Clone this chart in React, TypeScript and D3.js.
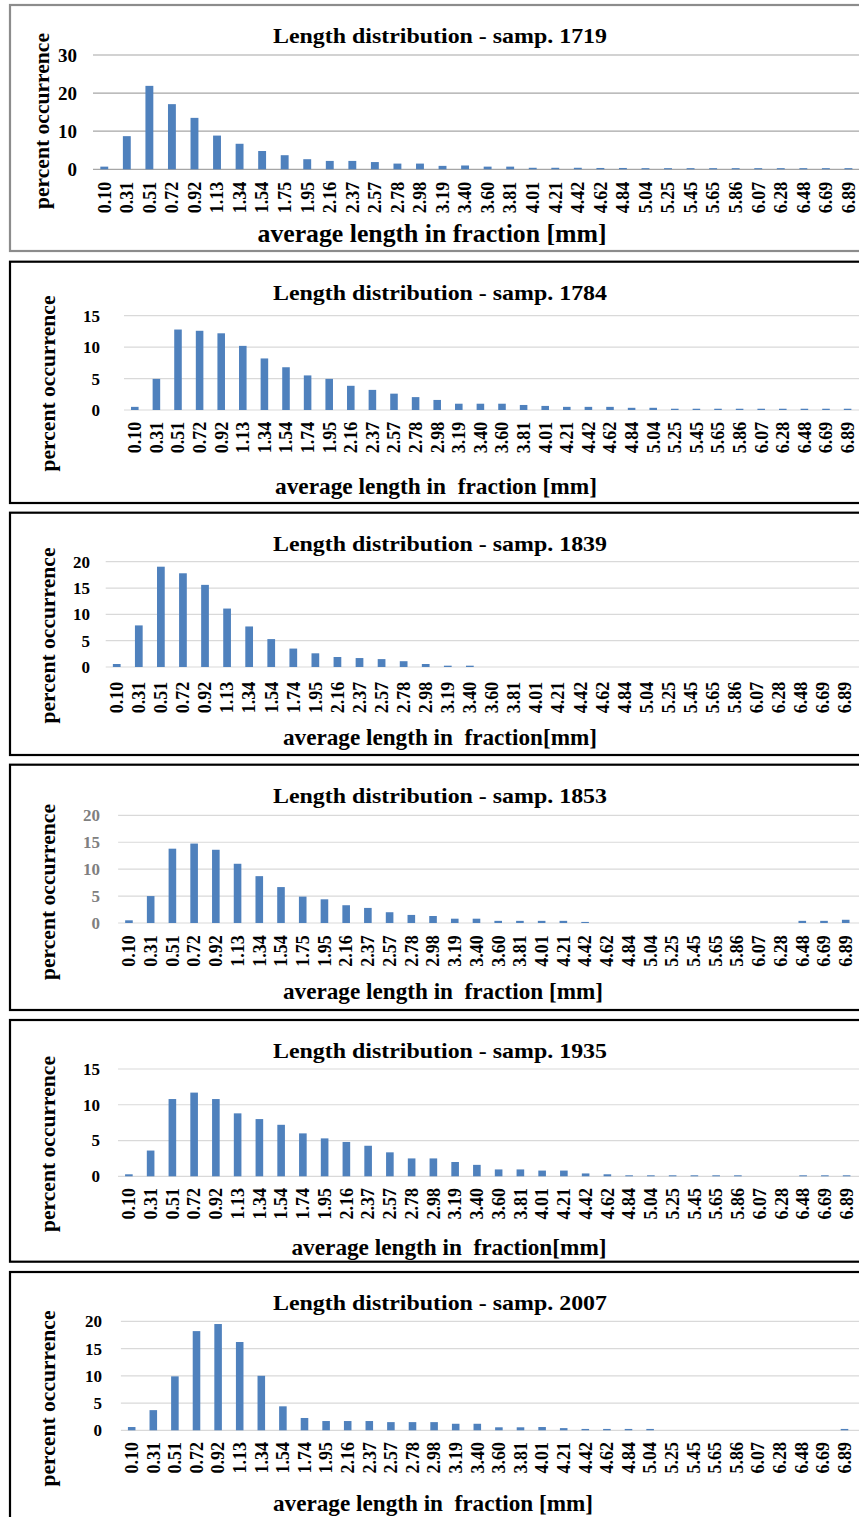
import React, { useEffect, useRef } from 'react';
import * as d3 from 'd3';

// category labels (two variants: some charts print 1.75, others 1.74)
const labels175 = ['0.10', '0.31', '0.51', '0.72', '0.92', '1.13', '1.34', '1.54', '1.75', '1.95', '2.16', '2.37', '2.57', '2.78', '2.98', '3.19', '3.40', '3.60', '3.81', '4.01', '4.21', '4.42', '4.62', '4.84', '5.04', '5.25', '5.45', '5.65', '5.86', '6.07', '6.28', '6.48', '6.69', '6.89'];
const labels174 = ['0.10', '0.31', '0.51', '0.72', '0.92', '1.13', '1.34', '1.54', '1.74', '1.95', '2.16', '2.37', '2.57', '2.78', '2.98', '3.19', '3.40', '3.60', '3.81', '4.01', '4.21', '4.42', '4.62', '4.84', '5.04', '5.25', '5.45', '5.65', '5.86', '6.07', '6.28', '6.48', '6.69', '6.89'];

// percent occurrence per sample
const samp1719 = [0.7, 8.7, 21.9, 17.1, 13.5, 8.85, 6.7, 4.8, 3.7, 2.65, 2.2, 2.2, 1.9, 1.5, 1.5, 0.9, 1.0, 0.7, 0.7, 0.4, 0.4, 0.4, 0.35, 0.35, 0.3, 0.3, 0.3, 0.3, 0.3, 0.3, 0.3, 0.3, 0.3, 0.3];
const samp1784 = [0.5, 4.95, 12.8, 12.6, 12.2, 10.2, 8.2, 6.8, 5.5, 4.95, 3.85, 3.2, 2.6, 2.05, 1.6, 1.0, 1.0, 1.0, 0.8, 0.65, 0.5, 0.5, 0.5, 0.35, 0.35, 0.2, 0.2, 0.2, 0.2, 0.2, 0.2, 0.2, 0.2, 0.2];
const samp1839 = [0.57, 7.9, 19.05, 17.8, 15.6, 11.1, 7.7, 5.3, 3.5, 2.6, 1.9, 1.7, 1.5, 1.1, 0.57, 0.25, 0.25, 0, 0, 0, 0, 0, 0, 0, 0, 0, 0, 0, 0, 0, 0, 0, 0, 0];
const samp1853 = [0.5, 5.0, 13.8, 14.75, 13.6, 11.0, 8.7, 6.67, 4.9, 4.4, 3.3, 2.8, 2.0, 1.5, 1.3, 0.8, 0.8, 0.4, 0.4, 0.4, 0.4, 0.2, 0, 0, 0, 0, 0, 0, 0, 0, 0, 0.4, 0.4, 0.6];
const samp1935 = [0.28, 3.6, 10.8, 11.7, 10.8, 8.8, 8.0, 7.2, 6.0, 5.3, 4.8, 4.27, 3.35, 2.5, 2.5, 2.0, 1.6, 0.96, 0.96, 0.8, 0.8, 0.4, 0.28, 0.14, 0.14, 0.14, 0.14, 0.14, 0.14, 0, 0, 0.14, 0.14, 0.14];
const samp2007 = [0.6, 3.7, 9.9, 18.2, 19.5, 16.2, 10.0, 4.4, 2.26, 1.7, 1.7, 1.7, 1.5, 1.5, 1.5, 1.2, 1.2, 0.55, 0.55, 0.6, 0.4, 0.25, 0.25, 0.25, 0.25, 0, 0, 0, 0, 0, 0, 0, 0, 0.25];

const titles = ['Length distribution - samp. 1719', 'Length distribution - samp. 1784', 'Length distribution - samp. 1839', 'Length distribution - samp. 1853', 'Length distribution - samp. 1935', 'Length distribution - samp. 2007'];
const xTitles = ['average length in fraction [mm]', 'average length in  fraction [mm]', 'average length in  fraction[mm]', 'average length in  fraction [mm]', 'average length in  fraction[mm]', 'average length in  fraction [mm]'];
const yTitle = 'percent occurrence';
const yTicks15 = [0, 5, 10, 15];
const yTicks20 = [0, 5, 10, 15, 20];
const yTicks30 = [0, 10, 20, 30];

const FONT = '"Liberation Serif", "Times New Roman", serif';
const BAR = '#4f81bd';

interface Layout {
  top: number; bottom: number; border: string; grid: string;
  left: number; step: number; pTop: number; pBottom: number;
  tickRight: number; tickFont: number; tickColor: string;
  labelTop: number; titleY: number; xTitleX: number; xTitleY: number; xTitleLen: number; xTitleFont: number;
  yTitleX: number; yTitleY: number;
}

const layouts: Layout[] = [
  { top: 5, bottom: 251, border: '#8c8c8c', grid: '#a6a6a6', left: 93, step: 22.55, pTop: 55, pBottom: 169.3, tickRight: 77, tickFont: 19, tickColor: '#000', labelTop: 181.7, titleY: 43, xTitleX: 432, xTitleY: 241.7, xTitleLen: 349, xTitleFont: 25, yTitleX: 49, yTitleY: 121 },
  { top: 261.7, bottom: 503, border: '#000', grid: '#d9d9d9', left: 124, step: 21.6, pTop: 315.7, pBottom: 410, tickRight: 100, tickFont: 17, tickColor: '#000', labelTop: 421.7, titleY: 300, xTitleX: 436, xTitleY: 494.3, xTitleLen: 322, xTitleFont: 23, yTitleX: 55, yTitleY: 383.5 },
  { top: 512.7, bottom: 755, border: '#000', grid: '#d9d9d9', left: 105.7, step: 22.07, pTop: 561.7, pBottom: 667, tickRight: 90, tickFont: 17, tickColor: '#000', labelTop: 681.7, titleY: 550.7, xTitleX: 440, xTitleY: 745, xTitleLen: 314, xTitleFont: 23, yTitleX: 55, yTitleY: 635.5 },
  { top: 764.7, bottom: 1010, border: '#000', grid: '#d9d9d9', left: 118.1, step: 21.72, pTop: 815.3, pBottom: 923, tickRight: 100, tickFont: 17, tickColor: '#7f7f7f', labelTop: 935.3, titleY: 802.7, xTitleX: 443, xTitleY: 999.3, xTitleLen: 320, xTitleFont: 23, yTitleX: 55, yTitleY: 892 },
  { top: 1020, bottom: 1261.7, border: '#000', grid: '#d9d9d9', left: 118, step: 21.75, pTop: 1069, pBottom: 1176.3, tickRight: 100, tickFont: 17, tickColor: '#000', labelTop: 1188, titleY: 1058.3, xTitleX: 449, xTitleY: 1255, xTitleLen: 315, xTitleFont: 23, yTitleX: 55, yTitleY: 1144 },
  { top: 1272, bottom: 1540, border: '#000', grid: '#d9d9d9', left: 120.9, step: 21.6, pTop: 1321.3, pBottom: 1430.3, tickRight: 102, tickFont: 17, tickColor: '#000', labelTop: 1442, titleY: 1310.3, xTitleX: 433, xTitleY: 1511, xTitleLen: 320, xTitleFont: 23, yTitleX: 55, yTitleY: 1398.5 },
];

const panelLabels = [labels175, labels174, labels174, labels175, labels174, labels174];
const panelValues = [samp1719, samp1784, samp1839, samp1853, samp1935, samp2007];
const panelTicks = [yTicks30, yTicks15, yTicks20, yTicks20, yTicks15, yTicks20];

const App = () => {
  const svgRef = useRef<SVGSVGElement>(null);

  useEffect(() => {
    if (!svgRef.current) return;
    const svg = d3.select(svgRef.current);
    svg.selectAll('*').remove();

    layouts.forEach((lay, p) => {
      const labels = panelLabels[p];
      const values = panelValues[p];
      const ticks = panelTicks[p];
      const g = svg.append('g');

      // panel frame
      g.append('rect')
        .attr('x', 10)
        .attr('y', lay.top)
        .attr('width', 880)
        .attr('height', lay.bottom - lay.top)
        .attr('fill', 'white')
        .attr('stroke', lay.border)
        .attr('stroke-width', 2.2);

      const right = lay.left + lay.step * labels.length;
      const x = d3.scaleBand<string>()
        .domain(labels)
        .range([lay.left, right])
        .paddingInner(0.65)
        .paddingOuter(0.325);

      const y = d3.scaleLinear()
        .domain([0, d3.max(ticks) as number])
        .range([lay.pBottom, lay.pTop]);

      // gridlines (run to the right edge of the picture)
      g.selectAll('line.grid')
        .data(ticks)
        .enter()
        .append('line')
        .attr('x1', lay.left)
        .attr('x2', 870)
        .attr('y1', d => y(d))
        .attr('y2', d => y(d))
        .attr('stroke', lay.grid)
        .attr('stroke-width', 1.2);

      // y tick labels
      g.selectAll('text.ytick')
        .data(ticks)
        .enter()
        .append('text')
        .attr('x', lay.tickRight)
        .attr('y', d => y(d))
        .attr('dy', '0.35em')
        .attr('text-anchor', 'end')
        .style('font-family', FONT)
        .style('font-weight', 'bold')
        .style('font-size', `${lay.tickFont}px`)
        .attr('fill', lay.tickColor)
        .text(d => d);

      // bars
      g.selectAll('rect.bar')
        .data(values)
        .enter()
        .append('rect')
        .attr('x', (_, i) => x(labels[i]) as number)
        .attr('width', x.bandwidth())
        .attr('y', d => y(d))
        .attr('height', d => lay.pBottom - y(d))
        .attr('fill', BAR);

      // x tick labels, rotated
      g.selectAll('text.xtick')
        .data(labels)
        .enter()
        .append('text')
        .attr('transform', d => `translate(${(x(d) as number) + x.bandwidth() / 2}, ${lay.labelTop}) rotate(-90)`)
        .attr('dy', '0.35em')
        .attr('text-anchor', 'end')
        .style('font-family', FONT)
        .style('font-weight', 'bold')
        .style('font-size', '18px')
        .attr('fill', '#000')
        .text(d => d);

      // chart title
      g.append('text')
        .attr('x', 440)
        .attr('y', lay.titleY)
        .attr('text-anchor', 'middle')
        .attr('textLength', 334)
        .attr('lengthAdjust', 'spacingAndGlyphs')
        .style('font-family', FONT)
        .style('font-weight', 'bold')
        .style('font-size', '22px')
        .text(titles[p]);

      // x axis title
      g.append('text')
        .attr('x', lay.xTitleX)
        .attr('y', lay.xTitleY)
        .attr('text-anchor', 'middle')
        .attr('textLength', lay.xTitleLen)
        .attr('lengthAdjust', 'spacingAndGlyphs')
        .style('font-family', FONT)
        .style('font-weight', 'bold')
        .style('font-size', `${lay.xTitleFont}px`)
        .style('white-space', 'pre')
        .text(xTitles[p]);

      // y axis title
      g.append('text')
        .attr('transform', `translate(${lay.yTitleX}, ${lay.yTitleY}) rotate(-90)`)
        .attr('text-anchor', 'middle')
        .attr('textLength', 176)
        .attr('lengthAdjust', 'spacingAndGlyphs')
        .style('font-family', FONT)
        .style('font-weight', 'bold')
        .style('font-size', '21px')
        .text(yTitle);
    });
  }, []);

  return (
    <svg
      ref={svgRef}
      width={859}
      height={1517}
      style={{ position: 'absolute', left: 0, top: 0, background: 'white' }}
    />
  );
};

export default App;
